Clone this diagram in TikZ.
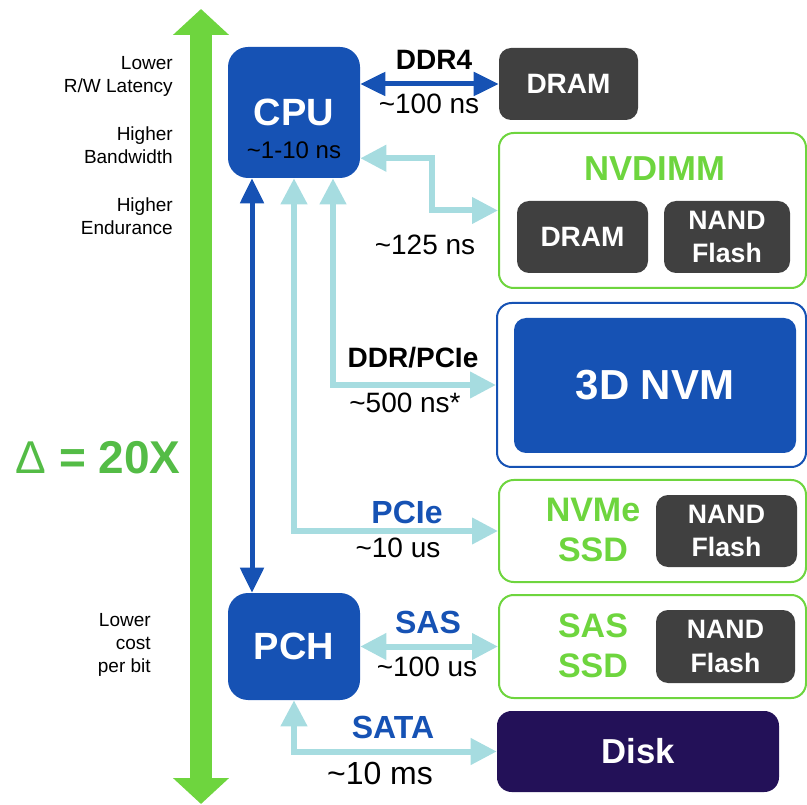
\documentclass[tikz,border=0pt]{standalone}
\usepackage{fontspec}
\setmainfont{Liberation Sans}
\usepackage{xcolor}
\usepackage{tikz}
\usetikzlibrary{arrows.meta, positioning, calc}
\definecolor{chipblue}{RGB}{22,82,180}
\definecolor{memgray}{RGB}{64,64,64}
\definecolor{disknavy}{RGB}{35,17,88}
\definecolor{nvgreen}{RGB}{110,213,62}
\definecolor{deltagreen}{RGB}{84,188,70}
\definecolor{linkteal}{RGB}{166,220,224}
\tikzset{
    chip/.style={rectangle, rounded corners=15pt, fill=chipblue, text=white, inner sep=0pt, font=\fontsize{28.5pt}{34pt}\selectfont\bfseries},
    memchip/.style={rectangle, rounded corners=9pt, fill=memgray, text=white, inner sep=0pt, align=center, font=\fontsize{20pt}{25pt}\selectfont\bfseries},
    modulebox/.style={rectangle, rounded corners=11pt, draw=nvgreen, line width=1.5pt, fill=white, inner sep=0pt},
    modtitle/.style={text=nvgreen, align=center, inner sep=0pt, font=\fontsize{25.5pt}{30pt}\selectfont\bfseries},
    sidenote/.style={anchor=east, align=right, inner sep=0pt, font=\fontsize{14.25pt}{17.25pt}\selectfont},
    busname/.style={inner sep=0pt, font=\fontsize{21pt}{25pt}\selectfont\bfseries},
    linkname/.style={inner sep=0pt, text=chipblue, font=\fontsize{24pt}{28pt}\selectfont\bfseries},
    latency/.style={inner sep=0pt, font=\fontsize{21pt}{25pt}\selectfont},
    bus/.style={line width=3.75pt, draw=chipblue, {Triangle[length=18.75pt,width=17.25pt]}-{Triangle[length=18.75pt,width=17.25pt]}},
    pcielink/.style={line width=4.5pt, draw=linkteal, {Triangle[length=19.5pt,width=19pt]}-{Triangle[length=19.5pt,width=19pt]}},
    scalearrow/.style={line width=16.5pt, draw=nvgreen, {Triangle[length=19.5pt,width=41pt]}-{Triangle[length=19.5pt,width=41pt]}}
}

\begin{document}
\begin{tikzpicture}[x=0.75pt, y=-0.75pt]
    \useasboundingbox (0,0) rectangle (807,805);

    % Scale on the left
    \coordinate (scaletop) at (201,9);
    \coordinate (scalebot) at (201,804);
    \draw[scalearrow] (scaletop) -- (scalebot);
    \node[sidenote] (latnote) at (173,76.5) {Lower\\R/W Latency};
    \node[sidenote] (bwnote) at (173,145.5) {Higher\\Bandwidth};
    \node[sidenote] (endnote) at (173,216) {Higher\\Endurance};
    \node[sidenote] (costnote) at (151,644.5) {Lower\\cost\\per bit};
    \node[inner sep=0pt, text=deltagreen, font=\fontsize{34.5pt}{40pt}\selectfont\bfseries] (delta) at (98,458) {{\mdseries Δ} = 20X};

    % Processor and hub
    \node[chip, minimum width=99pt, minimum height=98.25pt] (cpu) at (294,112.5) {CPU};
    \node[inner sep=0pt, font=\fontsize{18pt}{22pt}\selectfont] (cpulat) at (294,150) {\textasciitilde1-10 ns};
    \node[chip, minimum width=99pt, minimum height=80.25pt] (pch) at (294,646.5) {PCH};

    % Memory tier
    \node[memchip, minimum width=104.25pt, minimum height=54pt, font=\fontsize{21pt}{25pt}\selectfont\bfseries] (dram) at (568.5,84) {DRAM};
    \node[modulebox, minimum width=230.25pt, minimum height=116.25pt] (nvdimm) at (652.5,210.5) {};
    \node[modtitle, font=\fontsize{26pt}{30pt}\selectfont\bfseries] (nvdimmname) at (655,169) {NVDIMM};
    \node[memchip, minimum width=98.25pt, minimum height=54pt, font=\fontsize{21pt}{25pt}\selectfont\bfseries] (nvdram) at (582.5,237) {DRAM};
    \node[memchip, minimum width=94.5pt, minimum height=54pt] (nvnand) at (727,237) {NAND\\Flash};

    % 3D NVM
    \node[rectangle, rounded corners=11pt, draw=chipblue, line width=1.5pt, fill=white, minimum width=231.75pt, minimum height=123pt] (nvm) at (651.5,385) {};
    \node[rectangle, rounded corners=9pt, fill=chipblue, text=white, inner sep=0pt, minimum width=211.5pt, minimum height=101.25pt, font=\fontsize{31.5pt}{36pt}\selectfont\bfseries] (nvmcore) at (655,385.5) {3D NVM};

    % Storage tier
    \node[modulebox, minimum width=230.25pt, minimum height=76.5pt] (nvme) at (652.5,531) {};
    \node[modtitle] (nvmename) at (593,530) {NVMe\\SSD};
    \node[memchip, minimum width=105.75pt, minimum height=54pt] (nvmenand) at (726.5,531) {NAND\\Flash};
    \node[modulebox, minimum width=230.25pt, minimum height=77.25pt] (sas) at (652.5,646.5) {};
    \node[modtitle] (sasname) at (593,646) {SAS\\SSD};
    \node[memchip, minimum width=104.25pt, minimum height=54.75pt] (sasnand) at (725.5,646.5) {NAND\\Flash};
    \node[rectangle, rounded corners=11pt, fill=disknavy, text=white, inner sep=0pt, minimum width=211.5pt, minimum height=60.75pt, font=\fontsize{26pt}{30pt}\selectfont\bfseries] (disk) at (638,751.5) {Disk};

    % Links out of the CPU
    \draw[bus] (cpu.east |- dram.west) -- (dram.west);
    \draw[pcielink] ([yshift=15pt]cpu.south east) -- ++(72,0) |- (nvdimm.west);
    \draw[pcielink] ([xshift=29.25pt]cpu.south) |- (nvm.west);
    \draw[pcielink] (cpu.south) |- (nvme.west);
    \draw[bus] ([xshift=-31.5pt]cpu.south) -- ([xshift=-31.5pt]pch.north);

    % Links out of the PCH
    \draw[pcielink] (pch.east |- sas.west) -- (sas.west);
    \draw[pcielink] (pch.south) |- (disk.west);

    % Link names and latencies
    \node[busname] (ddrname) at (434,60) {DDR4};
    \node[latency] (ddrlat) at (429,104) {\textasciitilde100 ns};
    \node[latency] (nvdimmlat) at (425,245) {\textasciitilde125 ns};
    \node[busname] (nvmbus) at (413,358) {DDR/PCIe};
    \node[latency] (nvmlat) at (405,403) {\textasciitilde500 ns*};
    \node[linkname] (pciename) at (407,512) {PCIe};
    \node[latency] (pcielat) at (398,548) {\textasciitilde10 us};
    \node[linkname] (sasbus) at (428,622) {SAS};
    \node[latency] (saslat) at (427,667) {\textasciitilde100 us};
    \node[linkname] (satabus) at (393,727) {SATA};
    \node[latency, font=\fontsize{24pt}{28pt}\selectfont] (satalat) at (380,773) {\textasciitilde10 ms};
\end{tikzpicture}
\end{document}
